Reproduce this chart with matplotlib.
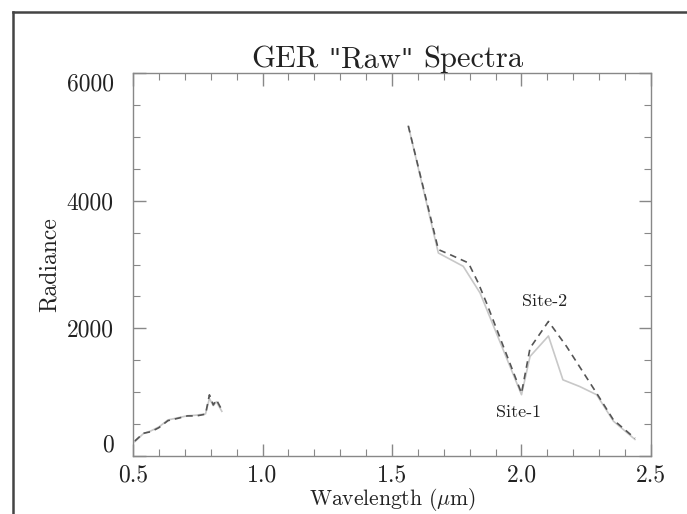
import matplotlib
matplotlib.use("Agg")
import matplotlib.pyplot as plt
from matplotlib.lines import Line2D
from matplotlib.ticker import MultipleLocator

plt.rcParams['font.family'] = ['serif']
plt.rcParams['font.serif'] = ['cmr10', 'DejaVu Serif']
plt.rcParams['mathtext.fontset'] = 'cm'
plt.rcParams['axes.unicode_minus'] = False
plt.rcParams['axes.formatter.use_mathtext'] = True

# VNIR part
wl_vnir = [0.507, 0.54, 0.57, 0.60, 0.635, 0.675, 0.71, 0.745, 0.78, 0.795, 0.81, 0.822, 0.843]
site2_vnir = [235, 356, 381, 444, 554, 592, 628, 628, 655, 958, 800, 880, 722]
site1_vnir = [225, 350, 395, 455, 565, 600, 630, 640, 660, 900, 790, 850, 700]

# SWIR part
wl_swir2 = [1.563, 1.679, 1.724, 1.795, 1.833, 1.865, 2.0, 2.033, 2.104, 2.174, 2.29, 2.355, 2.438]
site2_swir = [5170, 3234, 3155, 3025, 2711, 2397, 984, 1691, 2108, 1716, 984, 565, 278]
wl_swir1 = [1.563, 1.679, 1.775, 1.84, 2.0, 2.033, 2.104, 2.16, 2.225, 2.29, 2.355, 2.438]
site1_swir = [5170, 3180, 2972, 2554, 960, 1560, 1880, 1193, 1088, 960, 545, 260]

xticks = [0.5, 1.0, 1.5, 2.0, 2.5]
xticklabels = ['0.5', '1.0', '1.5', '2.0', '2.5']
yticks = [0, 2000, 4000, 6000]
yticklabels = ['0', '2000', '4000', '6000']

title_pieces = ['GER', ' ', '"', 'Raw', '"', ' ', 'Spectra']

fig = plt.figure(figsize=(6.87, 5.14), dpi=100)
ax = fig.add_axes([133/687, 1-456/514, (651-133)/687, (456-73)/514])

c1 = '#c8c8c8'
c2 = '#555555'
ax.plot(wl_vnir, site1_vnir, color=c1, lw=1.2)
ax.plot(wl_swir1, site1_swir, color=c1, lw=1.2)
ax.plot(wl_vnir, site2_vnir, color=c2, lw=1.2, linestyle=(0, (4, 3)))
ax.plot(wl_swir2, site2_swir, color=c2, lw=1.2, linestyle=(0, (4, 3)))

ax.set_xlim(0.5, 2.5)
ax.set_ylim(0, 6000)
ax.set_xticks(xticks)
ax.set_xticklabels(xticklabels)
ax.set_yticks(yticks)
ax.set_yticklabels(yticklabels)
ax.xaxis.set_minor_locator(MultipleLocator(0.1))
ax.yaxis.set_minor_locator(MultipleLocator(500))

axc = '#888888'
for s in ax.spines.values():
    s.set_color(axc)
    s.set_linewidth(1.0)
ax.tick_params(which='both', direction='in', top=True, right=True, color=axc, labelcolor='#222222', labelsize=17)
ax.tick_params(which='major', length=9, width=1.0)
ax.tick_params(which='minor', length=5, width=0.8)
ax.tick_params(axis='x', pad=6)
ax.tick_params(axis='y', pad=14)
ylabs = ax.get_yticklabels()
ylabs[0].set_va('bottom')
ylabs[-1].set_va('top')

ax.set_xlabel(r'Wavelength ($\mu$m)', fontsize=15.5, color='#222222', labelpad=0)
ax.set_ylabel('Radiance', fontsize=17, color='#222222', labelpad=4)

ax.text(2.09, 2420, 'Site-2', fontsize=13, ha='center', va='center', color='#222222')
ax.text(1.99, 690, 'Site-1', fontsize=13, ha='center', va='center', color='#222222')

# Title assembled from pieces so the straight quote marks render as in the original
renderer = fig.canvas.get_renderer()
title_size = 22
y_base = 1 - 67/514
arts = []
widths = []
for p in title_pieces:
    if p == ' ':
        t1 = fig.text(0, y_base, 'a a', fontsize=title_size, family=['cmr10'])
        t2 = fig.text(0, y_base, 'aa', fontsize=title_size, family=['cmr10'])
        w = t1.get_window_extent(renderer).width - t2.get_window_extent(renderer).width
        t1.remove(); t2.remove()
        arts.append(None); widths.append(w)
        continue
    fam = ['DejaVu Serif'] if p == '"' else ['cmr10']
    t = fig.text(0, y_base, p, fontsize=title_size if p != '"' else title_size - 3,
                 family=fam, va='baseline', ha='left', color='#222222')
    arts.append(t)
    widths.append(t.get_window_extent(renderer).width)
total = sum(widths)
x0 = 387 - total / 2
for t, w in zip(arts, widths):
    if t is not None:
        t.set_x(x0 / 687)
    x0 += w

# outer frame (cut-off box)
fig.add_artist(Line2D([13/687, 1.0], [1-12/514, 1-12/514], transform=fig.transFigure, color='#444444', lw=1.8))
fig.add_artist(Line2D([13/687, 13/687], [1-12/514, 0.0], transform=fig.transFigure, color='#444444', lw=1.8))

fig.savefig('out.png', dpi=100)
